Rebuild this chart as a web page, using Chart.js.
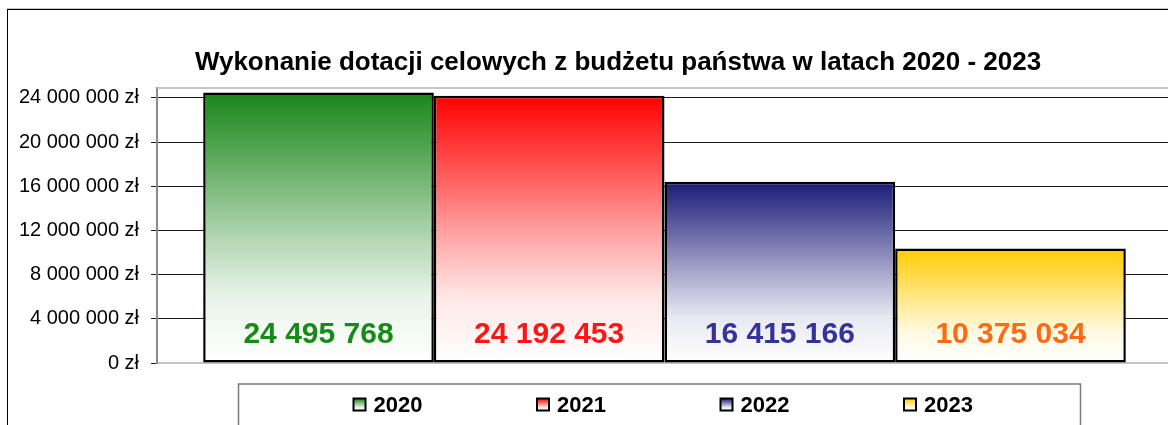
<!DOCTYPE html>
<html lang="pl">
<head>
<meta charset="utf-8">
<title>Wykonanie dotacji celowych</title>
<script src="https://cdn.jsdelivr.net/npm/chart.js@4.4.1/dist/chart.umd.min.js"></script>
<style>
  html, body { margin: 0; padding: 0; background: #fff; }
  #wrap { position: relative; width: 1168px; height: 425px; overflow: hidden; }
  #frame { position: absolute; left: 7px; top: 9px; width: 1300px; height: 500px;
           border-left: 1px solid #000; border-top: 1px solid #000; box-shadow: 0 -1px 0 #c8c8c8; }
  #box { position: absolute; left: 0; top: 0; width: 1180px; height: 425px; }
</style>
</head>
<body>
<div id="wrap">
  <div id="frame"></div>
  <div id="box"><canvas id="chart-dotacje" width="1180" height="425"></canvas></div>
</div>
<script>
'use strict';

const chartTitle = 'Wykonanie dotacji celowych z budżetu państwa w latach 2020 - 2023';
const years = ['2020', '2021', '2022', '2023'];
const values = [24495768, 24192453, 16415166, 10375034];
const topColors = ['#1a861a', '#ff0000', '#1a1a78', '#ffcc00'];
const labelColors = ['#178a17', '#ff1414', '#333399', '#ff6a10'];
const yTicks = [0, 4000000, 8000000, 12000000, 16000000, 20000000, 24000000];
const yMax = 24900000;

const fmt = v => String(Math.round(v)).replace(/\B(?=(\d{3})+(?!\d))/g, ' ');

// mieszanie koloru z białym (gradient jak w Excelu)
function mixWhite(hex, t) {
  const n = parseInt(hex.slice(1), 16);
  const r = (n >> 16) & 255, g = (n >> 8) & 255, b = n & 255;
  const m = c => Math.round(c + (255 - c) * t);
  return `rgb(${m(r)},${m(g)},${m(b)})`;
}

function fillGradient(ctx, hex, top, bottom) {
  const g = ctx.createLinearGradient(0, top, 0, bottom);
  [[0, 0], [0.25, 0.3], [0.5, 0.62], [0.75, 0.9], [1, 1]].forEach(([p, t]) => g.addColorStop(p, mixWhite(hex, t)));
  return g;
}

function barGradient(c, i) {
  const chart = c.chart;
  const y = chart.scales.y;
  if (!chart.chartArea || !y) return topColors[i];
  return fillGradient(chart.ctx, topColors[i], y.getPixelForValue(values[i]), y.getPixelForValue(0));
}

// wartości w dolnej części słupków
const valueLabels = {
  id: 'valueLabels',
  afterDatasetsDraw(chart) {
    const ctx = chart.ctx;
    ctx.save();
    ctx.font = 'bold 30px Arial, "Liberation Sans", sans-serif';
    ctx.textAlign = 'center';
    ctx.textBaseline = 'middle';
    chart.data.datasets.forEach((ds, i) => {
      const bar = chart.getDatasetMeta(i).data[0];
      if (!bar) return;
      ctx.fillStyle = labelColors[i];
      ctx.fillText(fmt(ds.data[0]), bar.x, bar.base - 28);
    });
    ctx.restore();
  }
};

// tytuł, ramka obszaru wykresu i legenda w ramce
const frameLegend = {
  id: 'frameLegend',
  beforeDatasetsDraw(chart) {
    const {ctx, chartArea: a} = chart;
    ctx.save();
    ctx.strokeStyle = '#c4c4c4';
    ctx.lineWidth = 2;
    ctx.beginPath();
    ctx.moveTo(a.left, a.top);
    ctx.lineTo(a.right, a.top);
    ctx.stroke();
    ctx.restore();
  },
  afterDraw(chart) {
    const {ctx, chartArea: a} = chart;
    ctx.save();
    ctx.fillStyle = '#000';
    ctx.font = 'bold 26px Arial, "Liberation Sans", sans-serif';
    ctx.textAlign = 'center';
    ctx.textBaseline = 'alphabetic';
    ctx.fillText(chartTitle, a.left + 461, a.top - 18);

    const cx = (a.left + a.right) / 2;
    const top = a.bottom + 21;
    ctx.strokeStyle = '#7a7a7a';
    ctx.lineWidth = 1.5;
    ctx.strokeRect(cx - 426, top, 842, 60);

    const step = 183.5;
    let x = cx - 311;
    const cy = top + 20.5;
    ctx.font = 'bold 22px Arial, "Liberation Sans", sans-serif';
    ctx.textBaseline = 'middle';
    ctx.textAlign = 'left';
    chart.data.datasets.forEach((ds, i) => {
      ctx.fillStyle = fillGradient(ctx, topColors[i], cy - 6, cy + 6);
      ctx.fillRect(x, cy - 6, 12, 12);
      ctx.strokeStyle = '#000';
      ctx.lineWidth = 2;
      ctx.strokeRect(x, cy - 6, 12, 12);
      ctx.fillStyle = '#000';
      ctx.fillText(ds.label, x + 20, cy + 1);
      x += step;
    });
    ctx.restore();
  }
};

const ctx = document.getElementById('chart-dotacje').getContext('2d');
const chartDotacje = new Chart(ctx, {
  type: 'bar',
  data: {
    labels: [''],
    datasets: years.map((yr, i) => ({
      label: yr,
      data: [values[i]],
      backgroundColor: c => barGradient(c, i),
      borderColor: '#000',
      borderWidth: 2.5,
      borderSkipped: false,
      categoryPercentage: 0.909,
      barPercentage: 1
    }))
  },
  options: {
    responsive: false,
    animation: false,
    layout: { padding: { left: 0, right: 8, top: 88, bottom: 62 } },
    plugins: {
      legend: { display: false },
      tooltip: { enabled: false },
      title: { display: false }
    },
    scales: {
      x: {
        grid: { display: false, drawTicks: false },
        ticks: { display: false },
        border: { display: true, color: '#c4c4c4', width: 2 },
        afterFit: s => { s.height = 0; }
      },
      y: {
        min: 0,
        max: yMax,
        afterBuildTicks: s => { s.ticks = yTicks.map(v => ({ value: v })); },
        ticks: {
          padding: 12,
          color: '#000',
          font: { family: 'Arial, "Liberation Sans", sans-serif', size: 20 },
          callback: v => fmt(v) + ' zł'
        },
        grid: { color: '#1a1a1a', lineWidth: 1, tickLength: 6 },
        border: { color: '#8a8a8a', width: 2 },
        afterFit: s => { s.width = 157; }
      }
    }
  },
  plugins: [valueLabels, frameLegend]
});
</script>
</body>
</html>
